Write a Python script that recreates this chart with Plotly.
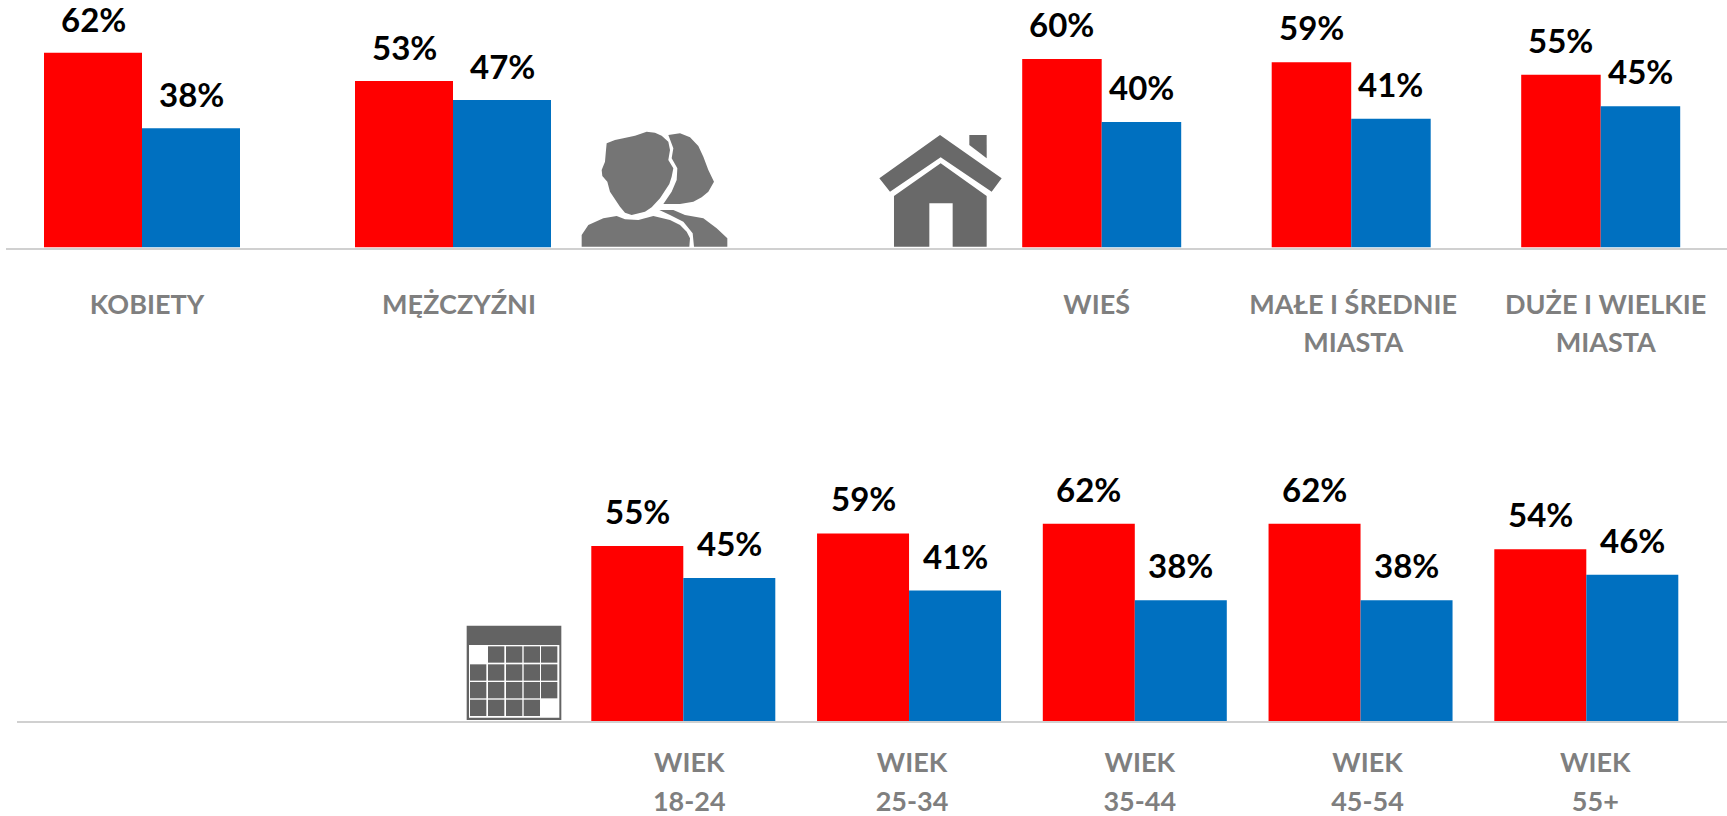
import plotly.graph_objects as go

W, H = 1727, 816

# ---- data ----
gender_categories = ["KOBIETY", "MĘŻCZYŹNI"]
gender_red = [62, 53]
gender_blue = [38, 47]

place_categories = ["WIEŚ", "MAŁE I ŚREDNIE<br>MIASTA", "DUŻE I WIELKIE<br>MIASTA"]
place_red = [60, 59, 55]
place_blue = [40, 41, 45]

age_categories = ["WIEK<br>18-24", "WIEK<br>25-34", "WIEK<br>35-44", "WIEK<br>45-54", "WIEK<br>55+"]
age_red = [55, 59, 62, 62, 54]
age_blue = [45, 41, 38, 38, 46]

RED = "#ff0000"
BLUE = "#0070c0"
FONT = "Lato"


def px(x):
    return x / W


def py(y):
    return 1 - y / H


def path(points, origin=(0, 0), k=1.0):
    """Pixel outline -> closed SVG path in paper coordinates."""
    p = [(px(origin[0] + a * k), py(origin[1] + b * k)) for a, b in points]
    return "M" + " L".join(f"{a:.5f},{b:.5f}" for a, b in p) + " Z"


fig = go.Figure()

# Layout of each panel: pixel extents, first group centre, group step, bar width,
# baseline, pixels per percent, tick-label font size and nudges
panels = [
    dict(cats=gender_categories, red=gender_red, blue=gender_blue, xaxis="x", yaxis="y",
         left=6, right=780, c0=142, step=311, bw=98, base=247.5, scale=3.14, top=0,
         shift=12, size=29, ticklen=30, nudge=[5, 6]),
    dict(cats=place_categories, red=place_red, blue=place_blue, xaxis="x2", yaxis="y2",
         left=780, right=W, c0=1101.7, step=249.5, bw=79.5, base=247.5, scale=3.14, top=0,
         shift=13, size=29, ticklen=30, nudge=[-5, 2, 5]),
    dict(cats=age_categories, red=age_red, blue=age_blue, xaxis="x3", yaxis="y3",
         left=17, right=W, c0=683.3, step=225.75, bw=92, base=721, scale=3.18, top=416,
         shift=13, size=30, ticklen=13, nudge=[6, 3, 5, 7, 9]),
]

annotations = []
layout_axes = {}
for i, p in enumerate(panels):
    n = len(p["cats"])
    xs = list(range(n))
    w = p["bw"] / p["step"]
    fig.add_bar(x=xs, y=p["red"], width=w, offset=-w, marker=dict(color=RED, line_width=0),
                xaxis=p["xaxis"], yaxis=p["yaxis"], name="Czerwony", showlegend=False)
    fig.add_bar(x=xs, y=p["blue"], width=w, offset=0, marker=dict(color=BLUE, line_width=0),
                xaxis=p["xaxis"], yaxis=p["yaxis"], name="Niebieski", showlegend=False)
    for series, shift in ((p["red"], -w / 2), (p["blue"], w / 2)):
        for j, v in enumerate(series):
            annotations.append(dict(
                x=j + shift, y=v, xref=p["xaxis"], yref=p["yaxis"], text=f"{v}%",
                showarrow=False, yanchor="bottom", yshift=p["shift"],
                font=dict(family=FONT, size=33, color="#000000", weight=700)))
    suffix = "" if i == 0 else str(i + 1)
    tick_text = ["<br>".join(f'<span style="font-size:27px">{line}</span>' for line in c.split("<br>"))
                 for c in p["cats"]]
    layout_axes["xaxis" + suffix] = dict(
        domain=[px(p["left"]), px(p["right"])],
        range=[(p["left"] - p["c0"]) / p["step"], (p["right"] - p["c0"]) / p["step"]],
        tickmode="array",
        tickvals=[j + d / p["step"] for j, d in zip(xs, p["nudge"])],
        ticktext=tick_text,
        tickangle=0, automargin=False,
        ticks="outside", ticklen=p["ticklen"], tickcolor="rgba(0,0,0,0)",
        tickfont=dict(family=FONT, size=p["size"], color="#7f7f7f", weight=700),
        showline=True, linecolor="#d0d0d0", linewidth=2,
        showgrid=False, zeroline=False, anchor="y" + suffix, fixedrange=True,
    )
    layout_axes["yaxis" + suffix] = dict(
        domain=[py(p["base"]), py(p["top"])],
        range=[0, (p["base"] - p["top"]) / p["scale"]],
        visible=False, anchor="x" + suffix, fixedrange=True, automargin=False,
    )

# ---- icons ----
shapes = []


def icon(points, color, origin=(0, 0), k=1.0):
    shapes.append(dict(type="path", xref="paper", yref="paper", path=path(points, origin, k),
                       fillcolor=color, line=dict(width=0), layer="above"))


# person icon (traced in a 3x crop at 570,120)
P0, PK = (570, 120), 1 / 3
GREY_P = "#757575"
icon([(110, 70), (135, 60), (160, 55), (195, 47), (230, 35), (255, 38), (275, 47), (295, 65), (300, 90),
      (295, 120), (310, 145), (305, 170), (298, 192), (270, 235), (245, 262), (225, 275), (185, 285),
      (165, 278), (150, 260), (120, 215), (112, 185), (97, 168), (95, 150), (105, 125), (108, 90)],
     GREY_P, P0, PK)
icon([(295, 45), (330, 40), (360, 52), (385, 78), (400, 110), (415, 150), (432, 185), (415, 215), (395, 232),
      (370, 245), (330, 252), (280, 252), (305, 215), (320, 180), (322, 145), (305, 115), (310, 85)],
     GREY_P, P0, PK)
icon([(35, 380), (35, 345), (55, 315), (100, 295), (140, 288), (165, 298), (205, 300), (250, 288), (300, 300),
      (330, 315), (350, 335), (360, 355), (358, 380)], GREY_P, P0, PK)
icon([(268, 270), (310, 270), (345, 285), (400, 295), (440, 325), (472, 355), (472, 380), (372, 380),
      (368, 340), (340, 305), (300, 285)], GREY_P, P0, PK)

# house icon (traced in a 3x crop at 870,120)
H0, HK = (870, 120), 1 / 3
GREY_H = "#696969"
icon([(210, 45), (395, 175), (365, 215), (212, 112), (60, 215), (28, 175)], GREY_H, H0, HK)
icon([(298, 45), (350, 45), (350, 115), (298, 75)], GREY_H, H0, HK)
icon([(212, 130), (350, 228), (350, 380), (248, 380), (248, 250), (178, 250), (178, 380), (72, 380), (72, 228)],
     GREY_H, H0, HK)

# calendar icon (traced in a 3x crop at 440,600)
C0, CK = (440, 600), 1 / 3
GREY_C = "#636363"
icon([(80, 77), (364, 77), (364, 360), (80, 360)], GREY_C, C0, CK)
icon([(87, 135), (358, 135), (358, 353), (87, 353)], "#ffffff", C0, CK)
for r, y0 in enumerate((139, 193, 246, 299)):
    for c, x0 in enumerate((90, 144, 198, 251, 303)):
        if (r, c) in ((0, 0), (3, 4)):
            continue
        icon([(x0, y0), (x0 + 49, y0), (x0 + 49, y0 + 49), (x0, y0 + 49)], GREY_C, C0, CK)

fig.update_layout(
    width=W, height=H, margin=dict(l=0, r=0, t=0, b=0, pad=0, autoexpand=False),
    paper_bgcolor="#ffffff", plot_bgcolor="#ffffff",
    barmode="overlay", showlegend=False,
    annotations=annotations, shapes=shapes, **layout_axes,
)

fig.write_html("out.html", config={"displayModeBar": False},
               post_script="document.body.style.margin='0';document.body.style.overflow='hidden';")
